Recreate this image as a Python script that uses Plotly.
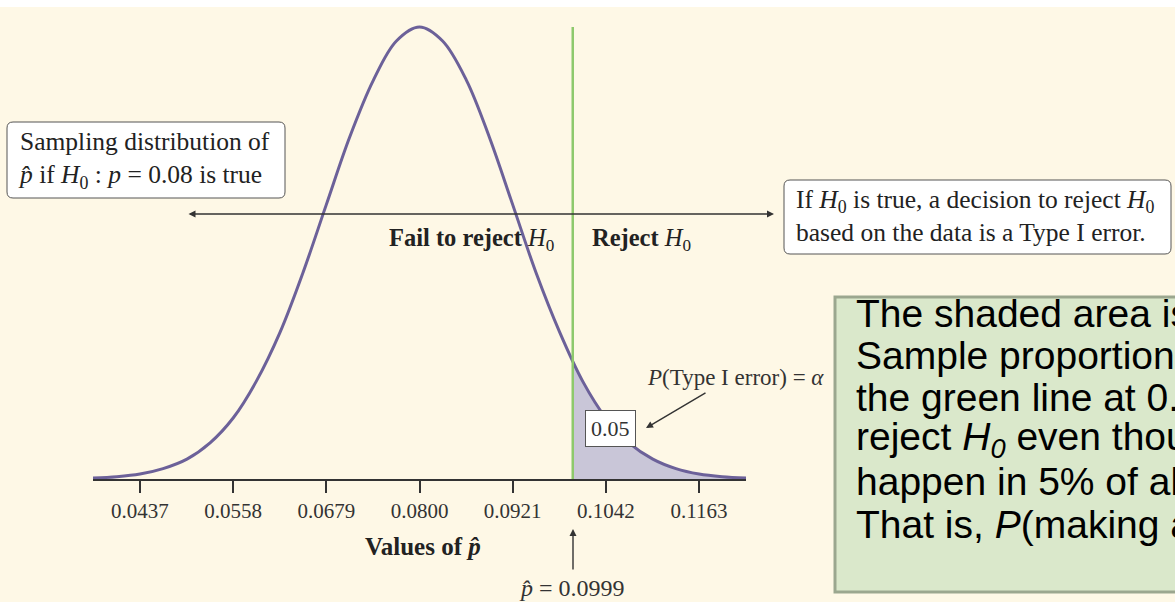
import plotly.graph_objects as go

# curve: x = values of p-hat, height relative to the peak
curve_x = [0.0376, 0.0407, 0.0437, 0.0467, 0.0498, 0.0528, 0.0558, 0.0588, 0.0619,
           0.0649, 0.0679, 0.0709, 0.0740, 0.0770, 0.0800, 0.0830, 0.0861, 0.0891,
           0.0921, 0.0951, 0.0982, 0.1012, 0.1042, 0.1072, 0.1103, 0.1133, 0.1163,
           0.1193, 0.1224]
curve_h = [0.002, 0.005, 0.011, 0.023, 0.044, 0.080, 0.135, 0.216, 0.325,
           0.458, 0.607, 0.755, 0.882, 0.969, 1.000, 0.969, 0.882, 0.755,
           0.607, 0.458, 0.325, 0.216, 0.135, 0.080, 0.044, 0.023, 0.011,
           0.005, 0.002]

# shaded rejection region (right tail)
shade_x = [0.0999, 0.1012, 0.1042, 0.1072, 0.1103, 0.1133, 0.1163, 0.1193, 0.1224]
shade_h = [0.258, 0.216, 0.135, 0.080, 0.044, 0.023, 0.011, 0.005, 0.002]

tick_vals = [0.0437, 0.0558, 0.0679, 0.0800, 0.0921, 0.1042, 0.1163]
tick_text = ["0.0437", "0.0558", "0.0679", "0.0800", "0.0921", "0.1042", "0.1163"]
critical = 0.0999

box_lines = [
    "The shaded area is the probability of a Type I error.",
    "Sample proportions to the right of",
    "the green line at 0.0999 would lead us to",
    "reject <i>H</i><sub><i>0</i></sub> even though it is true. This would",
    "happen in 5% of all samples.",
    "That is, <i>P</i>(making a Type I error) = 0.05.",
]

W, H = 1175, 602
SERIF = "Liberation Serif"
SANS = "Liberation Sans"
INK = "#333333"
DARK = "#222222"
CREAM = "#FEF8E6"


def px(x):
    return x / W


def py(y):
    return 1 - y / H


def rounded_box(x0, y0, x1, y1, r=6):
    """Rounded rectangle path in paper units, from pixel corners."""
    pts = [
        f"M {px(x0 + r)},{py(y0)}",
        f"L {px(x1 - r)},{py(y0)}",
        f"Q {px(x1)},{py(y0)} {px(x1)},{py(y0 + r)}",
        f"L {px(x1)},{py(y1 - r)}",
        f"Q {px(x1)},{py(y1)} {px(x1 - r)},{py(y1)}",
        f"L {px(x0 + r)},{py(y1)}",
        f"Q {px(x0)},{py(y1)} {px(x0)},{py(y1 - r)}",
        f"L {px(x0)},{py(y0 + r)}",
        f"Q {px(x0)},{py(y0)} {px(x0 + r)},{py(y0)} Z",
    ]
    return " ".join(pts)


def label(text, x, y, size=24, family=SERIF, xanchor="center", color=INK, **kw):
    return dict(text=text, x=px(x), y=py(y), xref="paper", yref="paper",
                xanchor=xanchor, yanchor="middle", showarrow=False,
                font=dict(family=family, size=size, color=color), **kw)


def arrow(x, y, ax, ay, side="end"):
    return dict(text="", x=px(x), y=py(y), xref="paper", yref="paper",
                ax=ax, ay=ay, showarrow=True, arrowhead=2, arrowsize=1,
                arrowwidth=1.4, arrowcolor=INK, arrowside=side, standoff=0)


fig = go.Figure()
fig.add_trace(go.Scatter(x=shade_x, y=shade_h, mode="lines", fill="tozeroy",
                         fillcolor="#C9C6D8", line=dict(width=0, shape="spline"),
                         hoverinfo="skip"))
fig.add_trace(go.Scatter(x=curve_x, y=curve_h, mode="lines",
                         line=dict(color="#6C6199", width=3, shape="spline"),
                         hoverinfo="skip"))

shapes = [
    dict(type="rect", xref="paper", yref="paper", x0=0, x1=1, y0=py(7), y1=1,
         fillcolor="white", line=dict(width=0), layer="below"),
    dict(type="line", xref="x", yref="y", x0=critical, x1=critical, y0=0, y1=1.0,
         line=dict(color="#8DC96C", width=2.5)),
    dict(type="path", xref="paper", yref="paper", path=rounded_box(7, 122, 285, 198),
         fillcolor="white", line=dict(color="#555555", width=1)),
    dict(type="path", xref="paper", yref="paper", path=rounded_box(784, 180, 1171, 254),
         fillcolor="white", line=dict(color="#555555", width=1)),
    dict(type="rect", xref="paper", yref="paper", x0=px(835), x1=px(1190),
         y0=py(592), y1=py(297), fillcolor="#DAE8CB",
         line=dict(color="#9BA78F", width=3)),
]

annotations = [
    dict(text="Sampling distribution of<br><i>p\u0302</i> if <i>H</i><sub>0</sub> : <i>p</i> = 0.08 is true",
         x=px(16), y=py(160), xref="paper", yref="paper", xanchor="left",
         yanchor="middle", align="left", showarrow=False,
         font=dict(family=SERIF, size=25.5, color=DARK)),
    dict(text="If <i>H</i><sub>0</sub> is true, a decision to reject <i>H</i><sub>0</sub><br>based on the data is a Type I error.",
         x=px(794), y=py(216), xref="paper", yref="paper", xanchor="left",
         yanchor="middle", align="left", showarrow=False,
         font=dict(family=SERIF, size=25.5, color=DARK)),
    arrow(774, 214, -587, 0, side="end+start"),
    label("<b>Fail to reject</b> <i>H</i><sub>0</sub>", 556, 240, size=24.5,
          xanchor="right", color=DARK),
    label("<b>Reject</b> <i>H</i><sub>0</sub>", 590, 240, size=24.5, xanchor="left",
          color=DARK),
    label("<i>P</i>(Type I error) = <i>\u03b1</i>", 735, 377, size=23),
    arrow(646, 428, 61, -36),
    dict(text="0.05", x=px(610), y=py(428), xref="paper", yref="paper",
         xanchor="center", yanchor="middle", showarrow=False, bgcolor="white",
         bordercolor="#555555", borderwidth=1, borderpad=5,
         font=dict(family=SERIF, size=22, color=INK)),
    label("<b>Values of <i>p\u0302</i></b>", 423, 546, size=25, color=DARK),
    arrow(573, 529, 0, 42),
    label("<i>p\u0302</i> = 0.0999", 572, 588, size=24),
]
for i, line in enumerate(box_lines):
    annotations.append(label(line, 854, 313 + i * 42.2, size=39, family=SANS,
                             xanchor="left", color="black"))

fig.update_layout(
    width=W, height=H,
    margin=dict(l=0, r=0, t=0, b=0),
    paper_bgcolor=CREAM, plot_bgcolor="rgba(0,0,0,0)",
    showlegend=False,
    shapes=shapes, annotations=annotations,
    xaxis=dict(domain=[px(93), px(746)], range=[0.0376, 0.1224],
               showline=True, linecolor=INK, linewidth=2,
               ticks="outside", ticklen=12, tickwidth=1.5, tickcolor=INK,
               tickvals=tick_vals, ticktext=tick_text,
               tickfont=dict(family=SERIF, size=21, color=INK),
               showgrid=False, zeroline=False, fixedrange=True),
    yaxis=dict(domain=[py(479), py(7)], range=[0, 1.0442], visible=False,
               fixedrange=True),
)

fig.write_html("out.html", config={"displayModeBar": False},
               post_script="document.body.style.margin='0';")
